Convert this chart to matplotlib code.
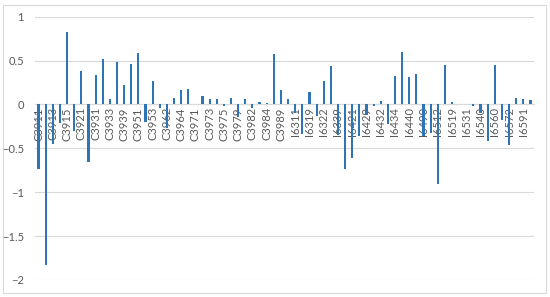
import matplotlib.pyplot as plt
from matplotlib.patches import Rectangle
import numpy as np

# categories (Excel only shows every other label)
categorias = ['C3911', 'C3912', 'C3913', 'C3914', 'C3915', 'C3917', 'C3921', 'C3922',
              'C3931', 'C3932', 'C3933', 'C3936', 'C3939', 'C3941', 'C3951', 'C3952',
              'C3953', 'C3955', 'C3962', 'C3963', 'C3964', 'C3968', 'C3971', 'C3972',
              'C3973', 'C3974', 'C3975', 'C3977', 'C3979', 'C3981', 'C3982', 'C3983',
              'C3984', 'C3986', 'C3989', 'C3990', 'I6311', 'I6315', 'I6319', 'I6320',
              'I6322', 'I6330', 'I6339', 'I6410', 'I6421', 'I6425', 'I6429', 'I6430',
              'I6432', 'I6433', 'I6434', 'I6437', 'I6440', 'I6450', 'I6490', 'I6500',
              'I6512', 'I6515', 'I6519', 'I6525', 'I6531', 'I6535', 'I6540', 'I6550',
              'I6560', 'I6565', 'I6572', 'I6580', 'I6591', 'I6595']

valores = [-0.73, -1.83, -0.45, -0.21, 0.82, -0.30, 0.38, -0.65,
           0.34, 0.52, 0.06, 0.48, 0.22, 0.46, 0.59, -0.20,
           0.27, -0.04, -0.27, 0.07, 0.16, 0.18, 0.0, 0.10,
           0.06, 0.06, -0.02, 0.07, -0.14, 0.06, -0.04, 0.03,
           0.02, 0.58, 0.16, 0.06, -0.10, -0.34, 0.14, -0.13,
           0.27, 0.44, -0.35, -0.73, -0.61, -0.36, -0.12, -0.02,
           0.04, -0.22, 0.33, 0.60, 0.31, 0.35, -0.36, -0.33,
           -0.91, 0.45, 0.03, 0.0, 0.0, -0.02, -0.10, -0.42,
           0.45, -0.18, -0.46, 0.07, 0.06, 0.05]

yticks = [-2, -1.5, -1, -0.5, 0, 0.5, 1]

plt.rcParams['font.family'] = ['Lato', 'DejaVu Sans']

fig = plt.figure(figsize=(5.5, 2.97), dpi=100)
ax = fig.add_axes([35 / 550, 17 / 297, 499 / 550, 263.3 / 297])

x = np.arange(len(valores))
ax.bar(x, valores, width=0.3, color='#2e75b6', zorder=3)

ax.set_xlim(-0.5, len(valores) - 0.5)
ax.set_ylim(-2, 1)
ax.set_yticks(yticks)
ax.set_yticklabels([('\u2212' + str(abs(v)) if v < 0 else str(v)).replace('.0', '') if v != 0 else '0'
                    for v in yticks])
ax.grid(axis='y', color='#d9d9d9', linewidth=0.8, zorder=0)

# x labels sit on the zero line
ax.spines['bottom'].set_position(('data', 0))
for s in ['top', 'right', 'left']:
    ax.spines[s].set_visible(False)
ax.spines['bottom'].set_color('#d9d9d9')
ax.set_xticks(x[::2])
ax.set_xticklabels(categorias[::2], rotation=90, va='top')
ax.tick_params(axis='x', length=0, pad=2, labelsize=8, labelcolor='#595959')
ax.tick_params(axis='y', length=0, pad=8, labelsize=8, labelcolor='#595959')

# borda do grafico
fig.patches.append(Rectangle((3 / 550, 4 / 297), 543 / 550, 288 / 297, transform=fig.transFigure,
                             fill=False, edgecolor='#d9d9d9', linewidth=0.8))

plt.savefig('out.png', dpi=100)
